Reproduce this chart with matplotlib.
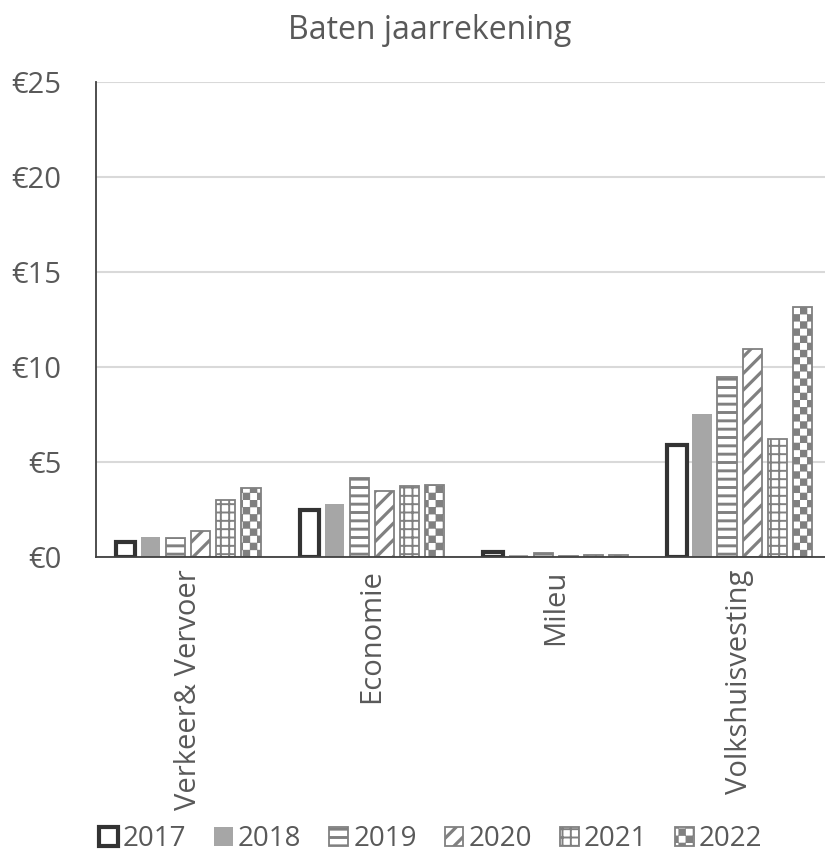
import warnings

import matplotlib

matplotlib.use("Agg")
import matplotlib.pyplot as plt
import numpy as np
from matplotlib import hatch as mhatch
from matplotlib.path import Path

warnings.filterwarnings("ignore")

categories = ["Verkeer& Vervoer", "Economie", "Mileu", "Volkshuisvesting"]
years = ["2017", "2018", "2019", "2020", "2021", "2022"]
values_2017 = [0.8, 2.45, 0.25, 5.9]
values_2018 = [1.05, 2.8, 0.1, 7.5]
values_2019 = [1.0, 4.15, 0.2, 9.45]
values_2020 = [1.35, 3.45, 0.05, 10.95]
values_2021 = [3.0, 3.75, 0.08, 6.2]
values_2022 = [3.65, 3.8, 0.08, 13.15]
y_ticks = [0, 5, 10, 15, 20, 25]
y_tick_labels = ["€0", "€5", "€10", "€15", "€20", "€25"]

TEXT = "#595959"
HATCH = "#808080"


class CheckerHatch(mhatch.HatchPatternBase):
    """Filled squares on a checkerboard, selected with 'c' in the hatch string."""

    def __init__(self, hatch, density):
        self.cells = 14 * hatch.count("c")
        self.squares = [(i, j) for i in range(self.cells) for j in range(self.cells) if (i + j) % 2 == 0]
        self.num_vertices = len(self.squares) * 5

    def set_vertices_and_codes(self, vertices, codes):
        step = 1.0 / self.cells
        inset = 0.013
        for k, (i, j) in enumerate(self.squares):
            x0, y0 = i * step + inset, j * step + inset
            x1, y1 = (i + 1) * step - inset, (j + 1) * step - inset
            vertices[k * 5:(k + 1) * 5] = [(x0, y0), (x1, y0), (x1, y1), (x0, y1), (x0, y0)]
            codes[k * 5:(k + 1) * 5] = [Path.MOVETO, Path.LINETO, Path.LINETO, Path.LINETO, Path.CLOSEPOLY]


mhatch._hatch_types.append(CheckerHatch)

plt.rcParams["font.family"] = ["Open Sans", "DejaVu Sans"]

series = [values_2017, values_2018, values_2019, values_2020, values_2021, values_2022]
styles = [
    dict(facecolor="white", edgecolor="#333333", linewidth=3.0),
    dict(facecolor="#a6a6a6", edgecolor="none", linewidth=0),
    dict(facecolor="white", edgecolor=HATCH, linewidth=1.3, hatch="--"),
    dict(facecolor="white", edgecolor=HATCH, linewidth=1.3, hatch="//"),
    dict(facecolor="white", edgecolor=HATCH, linewidth=1.3, hatch="++"),
    dict(facecolor="white", edgecolor=HATCH, linewidth=1.3, hatch="c"),
]
hatch_widths = [1.0, 1.0, 2.1, 2.3, 1.4, 2.1]


def _set_hatch_width(patch, value):
    if hasattr(patch, "set_hatch_linewidth"):
        patch.set_hatch_linewidth(value)


fig = plt.figure(figsize=(8.25, 8.61), dpi=100)
ax = fig.add_axes([0.1164, 0.3531, 0.892, 0.5517])

x = np.arange(len(categories))
pitch = 0.136
width = 0.108
for index, (year, vals, style) in enumerate(zip(years, series, styles)):
    with plt.rc_context({"hatch.linewidth": hatch_widths[index]}):
        bars = ax.bar(x + (index - 2.5) * pitch, vals, width, label=year, zorder=3, **style)
    for patch in bars:
        _set_hatch_width(patch, hatch_widths[index])

ax.set_xlim(-0.5, len(categories) - 0.5)
ax.set_ylim(0, 25)
ax.set_yticks(y_ticks)
ax.set_yticklabels(y_tick_labels)
ax.set_xticks(x)
ax.set_xticklabels(categories, rotation=90)
ax.yaxis.grid(True, color="#d9d9d9", linewidth=1.5, zorder=0)
ax.set_axisbelow(True)
ax.tick_params(axis="y", length=0, pad=25, labelsize=21, labelcolor=TEXT)
ax.tick_params(axis="x", length=0, pad=9, labelsize=21, labelcolor=TEXT)
for side in ("top", "right"):
    ax.spines[side].set_visible(False)
for side in ("left", "bottom"):
    ax.spines[side].set_color("#404040")
    ax.spines[side].set_linewidth(1.3)
    ax.spines[side].set_zorder(4)

fig.text(0.521, 0.965, "Baten jaarrekening", ha="center", va="center", fontsize=23, color=TEXT)

legend = fig.legend(
    loc="center",
    bbox_to_anchor=(0.522, 0.025),
    ncol=6,
    frameon=False,
    fontsize=20,
    labelcolor=TEXT,
    handlelength=0.68,
    handleheight=0.68,
    handletextpad=0.18,
    columnspacing=1.0,
)
for handle, value in zip(legend.legend_handles, hatch_widths):
    _set_hatch_width(handle, value)

fig.savefig("out.png", dpi=100)
